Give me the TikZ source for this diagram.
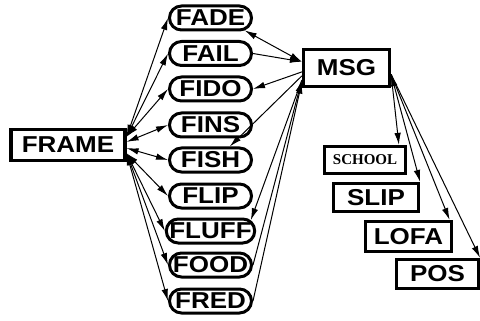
\documentclass[tikz,border=0pt]{standalone}
\usepackage{fontspec}
\usetikzlibrary{arrows.meta,shapes.misc}
\newfontfamily\labelsans{Liberation Sans}[FakeStretch=1.13]
\newfontfamily\labelserif{Liberation Serif}
\begin{document}
\begin{tikzpicture}[x=1pt,y=-1pt,
  tag/.style={font=\labelsans\bfseries\fontsize{23}{23}\selectfont},
  box/.style={tag,draw,line width=3.2pt,rectangle,inner sep=0pt},
  pill/.style={tag,draw,line width=3pt,rounded rectangle,
    minimum width=82pt,minimum height=24pt,inner sep=0pt},
  tip/.tip={Latex[length=12pt,width=6.5pt]},
  link/.style={line width=1pt,-tip},
  both/.style={line width=1pt,tip-tip}
]
\useasboundingbox (0,0) rectangle (480,321);

% source frame
\node[box,minimum width=114pt,minimum height=31pt] (frame) at (68,145) {FRAME};

% slot fillers
\node[pill] (fade)  at (210.5,18)  {FADE};
\node[pill] (fail)  at (210.5,53.5){FAIL};
\node[pill] (fido)  at (210.5,89)  {FIDO};
\node[pill] (fins)  at (210.5,125) {FINS};
\node[pill] (fish)  at (210.5,160) {FISH};
\node[pill] (flip)  at (210.5,196) {FLIP};
\node[pill] (fluff) at (210.5,231) {FLUFF};
\node[pill] (food)  at (210.5,265) {FOOD};
\node[pill] (fred)  at (210.5,301) {FRED};

% message frame and its targets
\node[box,minimum width=86pt,minimum height=37pt] (msg) at (346.5,68) {MSG};
\node[box,minimum width=81pt,minimum height=27pt,
  font=\labelserif\bfseries\fontsize{15}{15}\selectfont] (school) at (365,160) {SCHOOL};
\node[box,minimum width=85pt,minimum height=28pt] (slip) at (376,197.5) {SLIP};
\node[box,minimum width=86pt,minimum height=30pt] (lofa) at (408.5,236.5) {LOFA};
\node[box,minimum width=82pt,minimum height=29pt] (pos)  at (437.5,274) {POS};

% FRAME to every filler
\draw[both] (frame.8)  -- (fade.west);
\draw[both] (frame.8)  -- (fail.west);
\draw[both] (frame.8)  -- (fido.west);
\draw[both] (frame.3)  -- (fins.west);
\draw[both] (frame.-3) -- (fish.west);
\draw[both] (frame.-8) -- (flip.west);
\draw[both] (frame.-8) -- (fluff.west);
\draw[both] (frame.-8) -- (food.west);
\draw[both] (frame.-8) -- (fred.west);

% fillers and MSG
\draw[both] (fade.-20) -- (msg.172);
\draw[link] (fail.east) -- (msg.172);
\draw[link] (msg.185) -- (fido.east);
\draw[link] (msg.190) -- (fish.35);
\draw[link] (msg.195) -- (fluff.15);
\draw[link] (food.east) -- (msg.195);
\draw[link] (fred.east) -- (msg.197);

% MSG to its targets
\draw[link] (msg.-8) -- (school.24);
\draw[both] (msg.-8) -- (slip.north east);
\draw[link] (msg.-8) -- (lofa.22);
\draw[link] (msg.-8) -- (pos.north east);
\end{tikzpicture}
\end{document}
